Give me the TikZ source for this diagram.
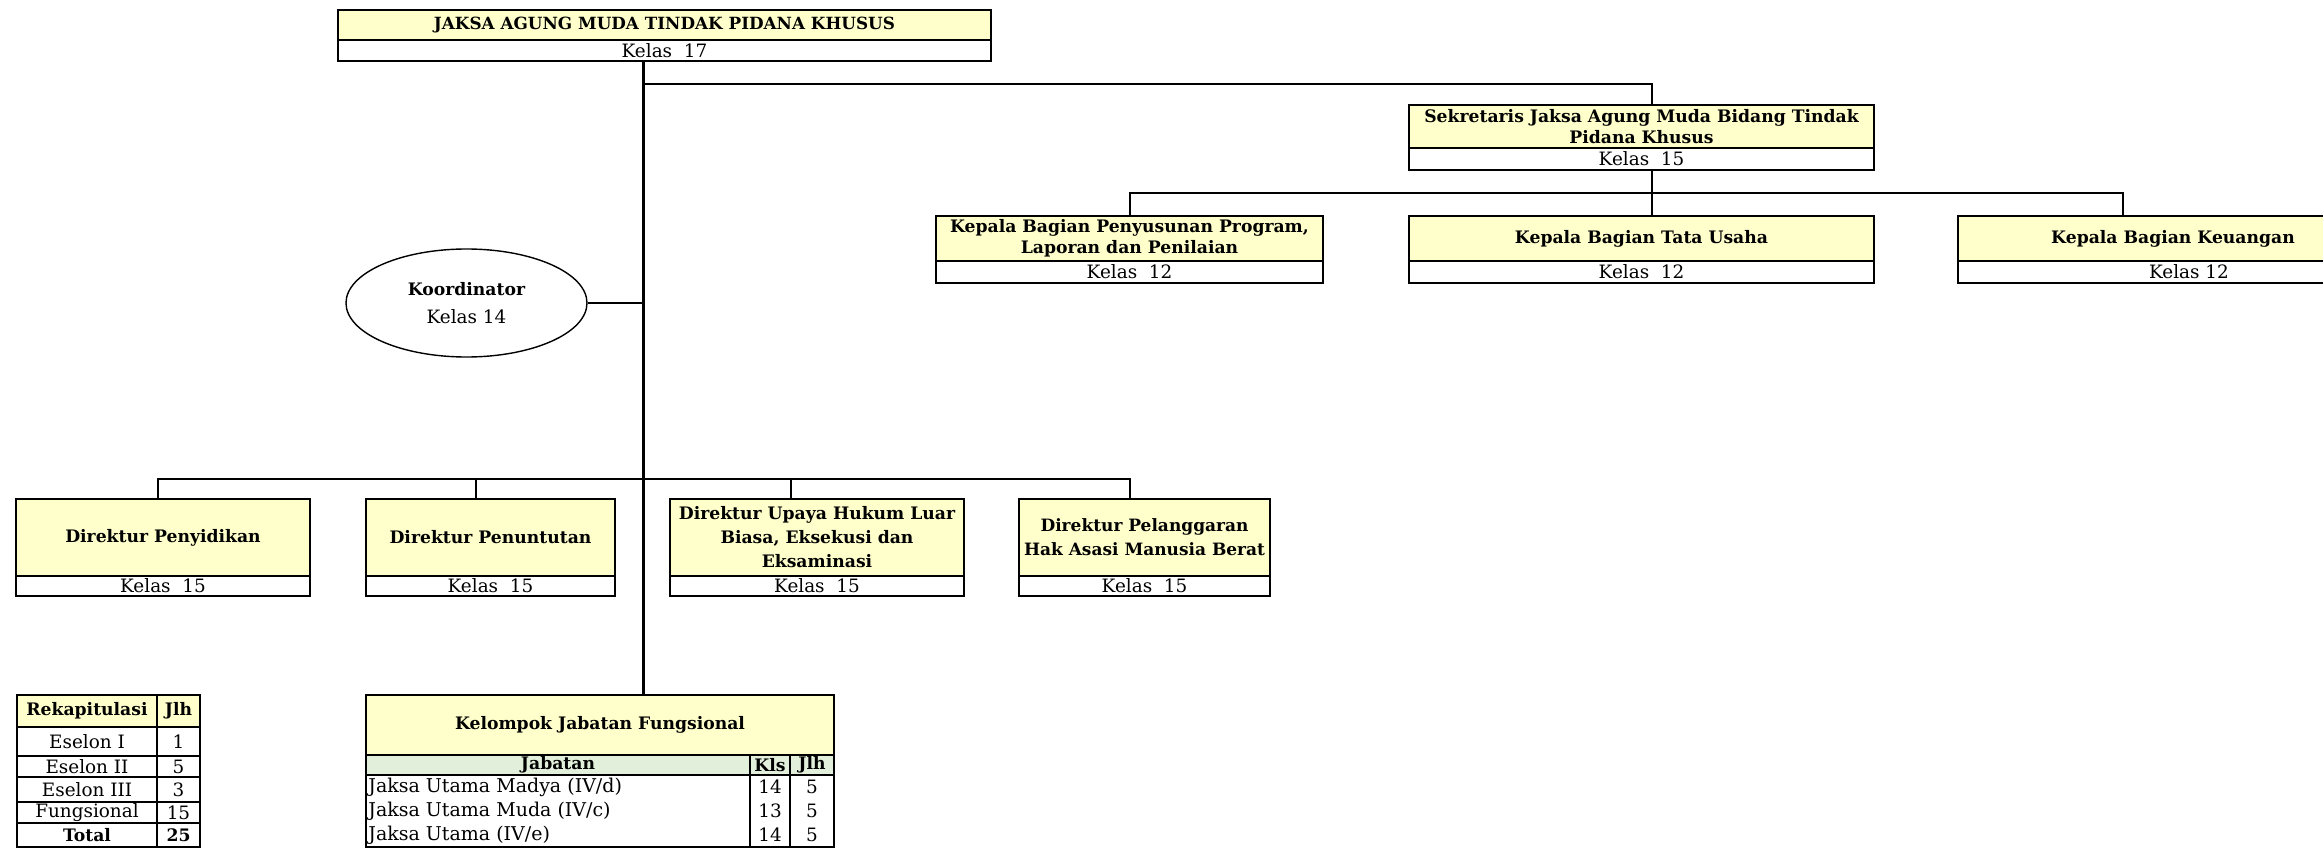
\documentclass[tikz,border=0pt]{standalone}
\usepackage{fontspec}
\setmainfont{DejaVu Serif}
\usetikzlibrary{fit,shapes.geometric,positioning}
\definecolor{hdryellow}{HTML}{FFFFCC}
\definecolor{jabgreen}{HTML}{E2EFDA}
\tikzset{
  hdr/.style={draw, line width=1.2pt, fill=hdryellow, inner sep=0pt},
  kls/.style={draw, line width=1.2pt, fill=white, inner sep=0pt},
  cell/.style={draw, line width=1pt, inner sep=0pt},
  hdrtxt/.style={align=center, inner sep=0pt, font=\fontsize{8.6}{10.5}\selectfont\bfseries},
  conn/.style={line width=1pt},
  trunk/.style={line width=1.5pt}
}

\begin{document}
\begin{tikzpicture}[x=0.5pt, y=-0.5pt, font=\fontsize{9.2}{11}\selectfont]
\useasboundingbox (0,0) rectangle (2323,850);

% eselon I
\node [hdr, fit={(338,10) (991,40)}] (jam) {};
\node [kls, fit={(338,40) (991,61)}] (jamk) {};
\node [hdrtxt, font=\fontsize{8.4}{10.5}\selectfont\bfseries] at (jam) {JAKSA AGUNG MUDA TINDAK PIDANA KHUSUS};
\node at (jamk) {Kelas\ \ 17};

% sekretaris and kepala bagian
\node [hdr, fit={(1409,105) (1874,148)}] (sek) {};
\node [kls, fit={(1409,148) (1874,170)}] (sekk) {};
\node [hdrtxt] at (sek) {Sekretaris Jaksa Agung Muda Bidang Tindak\\Pidana Khusus};
\node at (sekk) {Kelas\ \ 15};
\node [hdr, fit={(936,216) (1323,261)}] (kpp) {};
\node [kls, fit={(936,261) (1323,283)}] (kppk) {};
\node [hdrtxt] at (kpp) {Kepala Bagian Penyusunan Program,\\Laporan dan Penilaian};
\node at (kppk) {Kelas\ \ 12};
\node [hdr, fit={(1409,216) (1874,261)}] (ktu) {};
\node [kls, fit={(1409,261) (1874,283)}] (ktuk) {};
\node [hdrtxt] at (ktu) {Kepala Bagian Tata Usaha};
\node at (ktuk) {Kelas\ \ 12};
\node [hdr, fit={(1958,216) (2388,261)}] (kku) {};
\node [kls, fit={(1958,261) (2388,283)}] (kkuk) {};
\node [hdrtxt] at (kku) {Kepala Bagian Keuangan};
\node at ([xshift=8pt]kkuk) {Kelas 12};

% koordinator
\node [draw, ellipse, line width=0.7pt, minimum width=120.5pt, minimum height=54pt, align=center] (koor) at (466.5,303) {\textbf{\fontsize{8.6}{11}\selectfont Koordinator}\\[3pt]Kelas 14};

% direktur
\node [hdr, fit={(16,499) (310,576)}] (dpy) {};
\node [kls, fit={(16,576) (310,596)}] (dpyk) {};
\node [hdrtxt] at (dpy) {Direktur Penyidikan};
\node at (dpyk) {Kelas\ \ 15};
\node [hdr, fit={(366,499) (615,576)}] (dpt) {};
\node [kls, fit={(366,576) (615,596)}] (dptk) {};
\node [hdrtxt] at (dpt) {Direktur Penuntutan};
\node at (dptk) {Kelas\ \ 15};
\node [hdr, fit={(670,499) (964,576)}] (duh) {};
\node [kls, fit={(670,576) (964,596)}] (duhk) {};
\node [hdrtxt, font=\fontsize{8.6}{12}\selectfont\bfseries] at (duh) {Direktur Upaya Hukum Luar\\Biasa, Eksekusi dan\\Eksaminasi};
\node at (duhk) {Kelas\ \ 15};
\node [hdr, fit={(1019,499) (1270,576)}] (dhm) {};
\node [kls, fit={(1019,576) (1270,596)}] (dhmk) {};
\node [hdrtxt, font=\fontsize{8.5}{12}\selectfont\bfseries] at (dhm) {Direktur Pelanggaran\\Hak Asasi Manusia Berat};
\node at (dhmk) {Kelas\ \ 15};

% kelompok jabatan fungsional
\node [hdr, fit={(366,695) (834,755)}] (kjf) {};
\node [hdrtxt] at (kjf) {Kelompok Jabatan Fungsional};
\node [cell, fill=jabgreen, fit={(366,755) (750,775)}] (jab) {};
\node [cell, fill=jabgreen, fit={(750,755) (790,775)}] (jabkls) {};
\node [cell, fill=jabgreen, fit={(790,755) (834,775)}] (jabjlh) {};
\node [hdrtxt] at (jab) {Jabatan};
\node [hdrtxt] at (jabkls) {Kls};
\node [hdrtxt] at (jabjlh) {Jlh};
\draw [line width=1pt] (366,775) rectangle (834,847);
\draw [line width=1pt] (750,775) -- (750,847) (790,775) -- (790,847);
\node [anchor=west, inner sep=1pt, font=\fontsize{9.5}{11}\selectfont] (j1) at (366,787) {Jaksa Utama Madya (IV/d)};
\node [anchor=west, inner sep=1pt, font=\fontsize{9.5}{11}\selectfont] (j2) at (366,811) {Jaksa Utama Muda (IV/c)};
\node [anchor=west, inner sep=1pt, font=\fontsize{9.5}{11}\selectfont] (j3) at (366,835) {Jaksa Utama (IV/e)};
\node (k1) at (770,787) {14};
\node (k2) at (770,811) {13};
\node (k3) at (770,835) {14};
\node (n1) at (812,787) {5};
\node (n2) at (812,811) {5};
\node (n3) at (812,835) {5};

% rekapitulasi
\node [cell, fill=hdryellow, fit={(17,695) (157,727)}] (rek) {};
\node [cell, fill=hdryellow, fit={(157,695) (200,727)}] (rekjlh) {};
\node [hdrtxt] at (rek) {Rekapitulasi};
\node [hdrtxt] at (rekjlh) {Jlh};
\foreach \lab/\num/\ya/\yb [count=\i] in {Eselon I/1/727/756, Eselon II/5/756/777, Eselon III/3/777/802, Fungsional/15/802/823}{
  \node [cell, fit={(17,\ya) (157,\yb)}] (r\i) {};
  \node [cell, fit={(157,\ya) (200,\yb)}] (rn\i) {};
  \node at (r\i) {\lab};
  \node at (rn\i) {\num};
}
\node [cell, fit={(17,823) (157,847)}] (tot) {};
\node [cell, fit={(157,823) (200,847)}] (totjlh) {};
\node [hdrtxt] at (tot) {Total};
\node [hdrtxt] at (totjlh) {25};

% connectors
\coordinate (tr) at (643,61);
\coordinate (jsek) at (643,84);
\coordinate (jkb) at (1652,193);
\coordinate (jdir) at (643,479);
\draw [trunk] (tr) -- (tr |- kjf.north);
\draw [conn] (jsek) -| ([xshift=5.25pt]sek.north);
\draw [conn] ([xshift=5.25pt]sekk.south) -- (jkb);
\draw [conn] (kpp.north) |- (jkb) -| ([xshift=-25pt]kku.north);
\draw [conn] (jkb) -- ([xshift=5.25pt]ktu.north);
\draw [conn] (koor.east) -- (koor.east -| tr);
\draw [conn] ([xshift=-2.5pt]dpy.north) |- (jdir) -| ([xshift=-7.25pt]dhm.north);
\draw [conn] ([xshift=-7.25pt]dpt.north) |- (jdir);
\draw [conn] ([xshift=-13pt]duh.north) |- (jdir);
\end{tikzpicture}
\end{document}
